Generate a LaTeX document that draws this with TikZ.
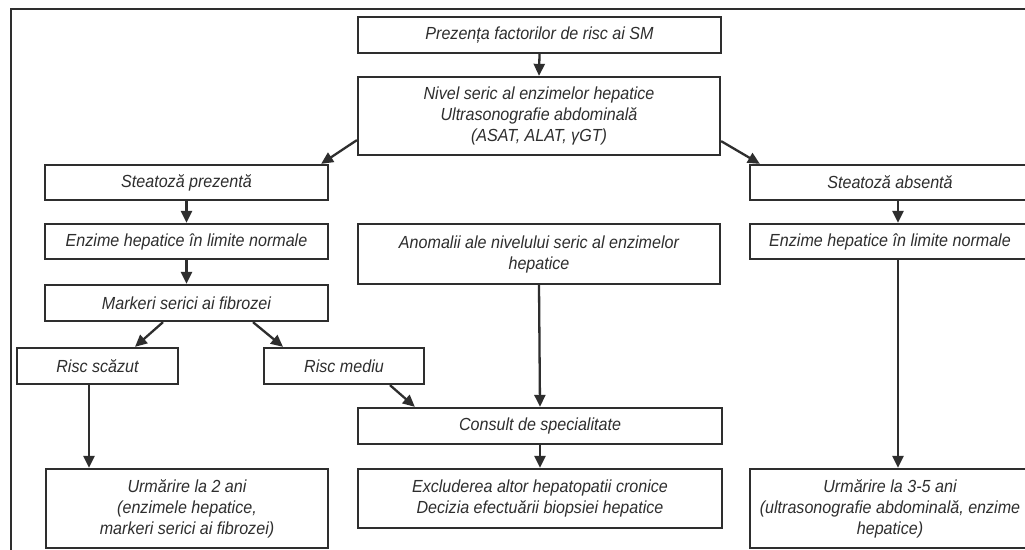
\documentclass[tikz,border=0pt]{standalone}
\usepackage{fontspec}
\setmainfont{Liberation Sans}[FakeStretch=0.92]
\usetikzlibrary{arrows.meta,calc}
\definecolor{ink}{HTML}{2E2E2E}
\definecolor{txt}{HTML}{2E2E2E}
\tikzset{
  box/.style={draw=ink,line width=2.3pt,rectangle,inner sep=0pt,align=center,
    text=txt,font=\fontsize{17.5}{21}\selectfont\itshape},
  arr/.style={draw=ink,line width=2.3pt,-{Triangle[length=12pt,width=11pt]}},
}
\begin{document}
\begin{tikzpicture}[x=1pt,y=-1pt]
\useasboundingbox (0,0) rectangle (1025,549);
\clip (0,0) rectangle (1025,549);
\fill[white] (0,0) rectangle (1025,549);
\draw[ink,line width=2.3pt] (11,9) rectangle (1045,565);

\node[box,minimum width=363,minimum height=36] (top) at (539.5,35) {Prezența factorilor de risc ai SM};
\node[box,minimum width=362,minimum height=78] (nivel) at (539,116) {Nivel seric al enzimelor hepatice\\Ultrasonografie abdominală\\(ASAT, ALAT, γGT)};
\node[box,minimum width=283,minimum height=35] (stprez) at (186.5,182.5) {Steatoză prezentă};
\node[box,minimum width=283,minimum height=35] (enzL) at (186.5,241.5) {Enzime hepatice în limite normale};
\node[box,minimum width=283,minimum height=36] (mark) at (186.5,303) {Markeri serici ai fibrozei};
\node[box,minimum width=161,minimum height=36] (riscS) at (97.5,366) {Risc scăzut};
\node[box,minimum width=160,minimum height=36] (riscM) at (344,366) {Risc mediu};
\node[box,minimum width=362,minimum height=60] (anom) at (539,254) {Anomalii ale nivelului seric al enzimelor\\hepatice};
\node[box,minimum width=364,minimum height=36] (consult) at (540,426) {Consult de specialitate};
\node[box,minimum width=364,minimum height=59] (excl) at (540,498.5) {Excluderea altor hepatopatii cronice\\Decizia efectuării biopsiei hepatice};
\node[box,minimum width=282,minimum height=79] (urm2) at (187,508.5) {Urmărire la 2 ani\\(enzimele hepatice,\\markeri serici ai fibrozei)};
\node[box,minimum width=280,minimum height=35] (stabs) at (890,182.5) {Steatoză absentă};
\node[box,minimum width=280,minimum height=35] (enzR) at (890,241.5) {Enzime hepatice în limite normale};
\node[box,minimum width=280,minimum height=79] (urm35) at (890,508.5) {Urmărire la 3-5 ani\\(ultrasonografie abdominală, enzime\\hepatice)};

\draw[arr] (top.south) -- (nivel.north);
\draw[arr] ($(nivel.south west)+(0,-16)$) -- ($(stprez.north east)+(-8,0)$);
\draw[arr] ($(nivel.south east)+(0,-15)$) -- ($(stabs.north west)+(11,0)$);
\draw[arr] (stprez.south) -- (enzL.north);
\draw[arr] (enzL.south) -- (mark.north);
\draw[arr] ($(mark.south)+(-23.5,0)$) -- ($(riscS.north)+(37.5,0)$);
\draw[arr] ($(mark.south)+(66.5,0)$) -- ($(riscM.north)+(-61,0)$);
\draw[arr] ($(riscS.south)+(-8.5,0)$) coordinate (rs) -- (rs |- urm2.north);
\draw[arr] ($(riscM.south)+(46,0)$) -- ($(consult.north west)+(58,0)$);
\draw[arr] (anom.south) -- (consult.north);
\draw[arr] (consult.south) -- (excl.north);
\draw[arr] ($(stabs.south)+(8,0)$) coordinate (sa) -- (sa |- enzR.north);
\draw[arr] ($(enzR.south)+(8,0)$) coordinate (er) -- (er |- urm35.north);
\end{tikzpicture}
\end{document}
